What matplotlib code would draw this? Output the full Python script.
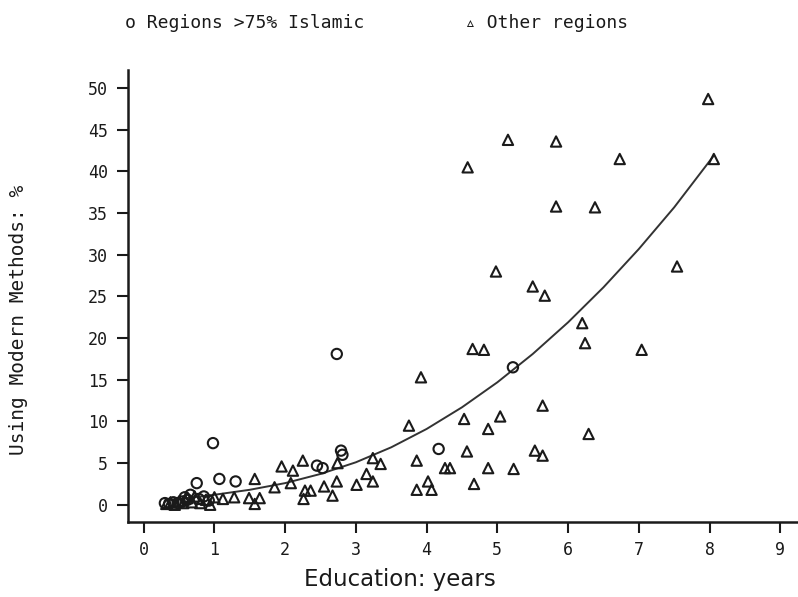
import matplotlib
matplotlib.use("Agg")
import matplotlib.pyplot as plt
import numpy as np

plt.rcParams['font.family'] = ['DejaVu Sans Mono', 'DejaVu Sans']

# regions where more than 75% of the population is Islamic
islamic_edu = [0.30, 0.36, 0.42, 0.48, 0.55, 0.58, 0.62, 0.66, 0.75, 0.78, 0.85, 0.92,
               0.98, 1.07, 1.30, 2.45, 2.53, 2.73, 2.79, 2.81, 4.17, 5.22]
islamic_use = [0.2, 0.1, 0.3, 0.2, 0.4, 0.9, 0.6, 1.2, 2.6, 0.7, 1.0, 0.5,
               7.4, 3.1, 2.8, 4.7, 4.4, 18.1, 6.5, 6.0, 6.7, 16.5]

# all other regions
other_edu = [0.32, 0.38, 0.44, 0.50, 0.56, 0.62, 0.68, 0.72, 0.80, 0.88, 0.94,
             1.00, 1.12, 1.28, 1.49, 1.57, 1.57, 1.64, 1.85, 1.95, 2.08, 2.11,
             2.25, 2.26, 2.28, 2.36, 2.55, 2.67, 2.73, 2.74, 3.01, 3.15, 3.24,
             3.24, 3.35, 3.75, 3.86, 3.86, 3.92, 4.02, 4.07, 4.26, 4.33, 4.53,
             4.57, 4.58, 4.65, 4.67, 4.81, 4.87, 4.87, 4.98, 5.04, 5.15, 5.23,
             5.50, 5.53, 5.64, 5.64, 5.67, 5.83, 5.83, 6.20, 6.24, 6.29, 6.38,
             6.73, 7.04, 7.54, 7.98, 8.06]
other_use = [0.1, 0.3, 0.0, 0.4, 0.2, 0.8, 0.3, 1.0, 0.2, 0.6, 0.0,
             0.9, 0.7, 0.9, 0.8, 0.1, 3.1, 0.8, 2.1, 4.6, 2.6, 4.1,
             5.3, 0.7, 1.7, 1.7, 2.2, 1.1, 2.8, 5.0, 2.4, 3.7, 5.6,
             2.8, 4.9, 9.5, 5.3, 1.8, 15.3, 2.8, 1.8, 4.4, 4.4, 10.3,
             6.4, 40.5, 18.7, 2.5, 18.6, 9.1, 4.4, 28.0, 10.6, 43.8, 4.3,
             26.2, 6.5, 11.9, 5.9, 25.1, 43.6, 35.8, 21.8, 19.4, 8.5, 35.7,
             41.5, 18.6, 28.6, 48.7, 41.5]

# fitted curve
fit_edu = [0.3, 0.6, 1.0, 1.5, 2.0, 2.5, 3.0, 3.5, 4.0, 4.5, 5.0, 5.5, 6.0, 6.5, 7.0, 7.5, 8.05]
fit_use = [0.5, 0.8, 1.2, 1.8, 2.6, 3.7, 5.1, 6.9, 9.1, 11.7, 14.7, 18.1, 21.9, 26.1, 30.7, 35.7, 41.8]

ink = '#1a1a1a'

fig = plt.figure(figsize=(7.98, 5.97), dpi=100)
ax = fig.add_axes([0.160, 0.126, 0.84, 0.757])

ax.plot(fit_edu, fit_use, color='#333333', linewidth=1.4)
ax.scatter(islamic_edu, islamic_use, marker='o', s=55, facecolors='none',
           edgecolors=ink, linewidths=1.5, zorder=3)
ax.scatter(other_edu, other_use, marker='^', s=55, facecolors='none',
           edgecolors=ink, linewidths=1.5, zorder=3)

ax.set_xlim(-0.226, 9.25)
ax.set_ylim(-2.04, 52.2)
ax.set_xticks(range(0, 10))
ax.set_yticks(range(0, 51, 5))

for side in ['top', 'right']:
    ax.spines[side].set_visible(False)
for side in ['left', 'bottom']:
    ax.spines[side].set_linewidth(1.8)
    ax.spines[side].set_color(ink)
ax.tick_params(direction='out', length=8, width=1.5, colors=ink,
               labelsize=12, pad=6)

ax.set_xlabel('Education: years', family='DejaVu Sans', fontsize=16.5,
              color=ink, va='center')
ax.xaxis.set_label_coords(0.406, -0.128)
ax.set_ylabel('Using Modern Methods: %', fontsize=14, color=ink, va='center')
ax.yaxis.set_label_coords(-0.163, 0.447)

fig.text(0.157, 0.962, 'o Regions >75% Islamic', fontsize=13, color=ink,
         va='center')
fig.text(0.583, 0.962, '\u25b5 Other regions', fontsize=13, color=ink,
         va='center')

fig.savefig('out.png', dpi=100)
